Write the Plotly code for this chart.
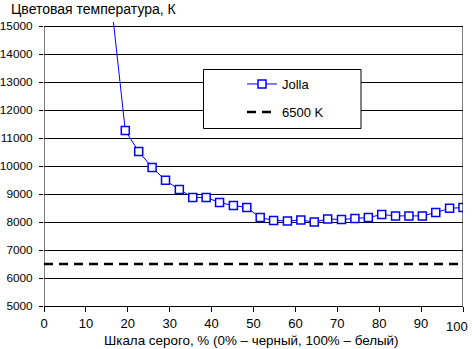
import plotly.graph_objects as go

# Data
gray_percent = [16.1, 19.4, 22.6, 25.8, 29.0, 32.3, 35.5, 38.7, 41.9, 45.2,
                48.4, 51.6, 54.8, 58.1, 61.3, 64.5, 67.7, 71.0, 74.2, 77.4,
                80.6, 83.9, 87.1, 90.3, 93.5, 96.8, 100.0]
jolla_temp = [15800, 11270, 10520, 9950, 9490, 9160, 8880, 8880, 8700, 8590,
              8520, 8160, 8060, 8040, 8070, 8000, 8110, 8090, 8130, 8160,
              8270, 8220, 8220, 8220, 8340, 8490, 8520]
ref_x = [0, 100]
ref_temp = [6500, 6500]

x_ticks = list(range(0, 101, 10))
x_labels = ["0", "10", "20", "30", "40", "50", "60", "70", "80", "90", "100"]
y_ticks = list(range(5000, 15001, 1000))

FONT = "Liberation Sans, Arial, sans-serif"

W, H = 472, 349
ML, MR, MT, MB = 44, 9, 22, 43
PW, PH = W - ML - MR, H - MT - MB


def px_x(p):
    return (p - ML) / PW


def px_y(p):
    return (H - MB - p) / PH


fig = go.Figure()

fig.add_trace(go.Scatter(
    x=gray_percent, y=jolla_temp, name="Jolla", mode="lines+markers",
    line=dict(color="#0000FF", width=1),
    marker=dict(symbol="square", size=8, color="white",
                line=dict(color="#0000FF", width=1.5)),
    legend="legend",
))
fig.add_trace(go.Scatter(
    x=ref_x, y=ref_temp, name="6500 K", mode="lines",
    line=dict(color="black", width=2.5, dash="9px,6px"),
    legend="legend2",
))

shapes = [
    # left axis line and right border of plot area
    dict(type="line", xref="x", yref="y", x0=0, x1=0, y0=5000, y1=15000,
         line=dict(color="black", width=1), layer="above"),
    dict(type="line", xref="x", yref="y", x0=100, x1=100, y0=5000, y1=15000,
         line=dict(color="black", width=1), layer="above"),
    # legend box
    dict(type="rect", xref="paper", yref="paper",
         x0=px_x(203.5), x1=px_x(361), y0=px_y(128.5), y1=px_y(69.5),
         fillcolor="white", line=dict(color="black", width=1), layer="above"),
]

# last x tick label is shifted left to stay inside the picture (as in the reference)
shown_x_labels = x_labels[:-1] + [""]

fig.update_layout(
    width=W, height=H,
    margin=dict(l=ML, r=MR, t=MT, b=MB, pad=0, autoexpand=False),
    paper_bgcolor="white", plot_bgcolor="white",
    font=dict(family=FONT, size=12, color="black"),
    showlegend=True,
    legend=dict(x=px_x(242), y=px_y(84), xanchor="left", yanchor="middle",
                bgcolor="rgba(0,0,0,0)", borderwidth=0,
                font=dict(family=FONT, size=13, color="black")),
    legend2=dict(x=px_x(242), y=px_y(112), xanchor="left", yanchor="middle",
                 bgcolor="rgba(0,0,0,0)", borderwidth=0,
                 font=dict(family=FONT, size=13, color="black")),
    xaxis=dict(range=[0, 100], tickmode="array", tickvals=x_ticks,
               ticktext=shown_x_labels, automargin=False,
               ticklabeloverflow="allow",
               showgrid=False, zeroline=False,
               showline=True, linecolor="black", linewidth=1,
               ticks="outside", ticklen=5, tickcolor="black", tickwidth=1,
               tickfont=dict(family=FONT, size=13, color="black")),
    yaxis=dict(range=[5000, 15150], tickmode="array", tickvals=y_ticks,
               ticktext=[str(v) for v in y_ticks], automargin=False,
               ticklabeloverflow="allow",
               showgrid=True, gridcolor="black", gridwidth=1,
               zeroline=False, showline=False,
               ticks="outside", ticklen=4, tickcolor="black", tickwidth=1,
               ticklabelstandoff=4,
               tickfont=dict(family=FONT, size=11.8, color="black")),
    shapes=shapes,
    annotations=[
        dict(text="Цветовая температура, К", xref="paper", yref="paper",
             x=px_x(9), y=px_y(9), xanchor="left", yanchor="middle",
             showarrow=False, font=dict(family=FONT, size=14, color="black")),
        dict(text="Шкала серого, % (0% – черный, 100% – белый)",
             xref="paper", yref="paper",
             x=px_x(251.5), y=px_y(340), xanchor="center", yanchor="middle",
             showarrow=False, font=dict(family=FONT, size=13.4, color="black")),
        dict(text=x_labels[-1], xref="x", yref="paper",
             x=x_ticks[-1], y=px_y(326), xanchor="right", yanchor="middle",
             xshift=7, showarrow=False,
             font=dict(family=FONT, size=13, color="black")),
    ],
)

fig.write_html("out.html")
